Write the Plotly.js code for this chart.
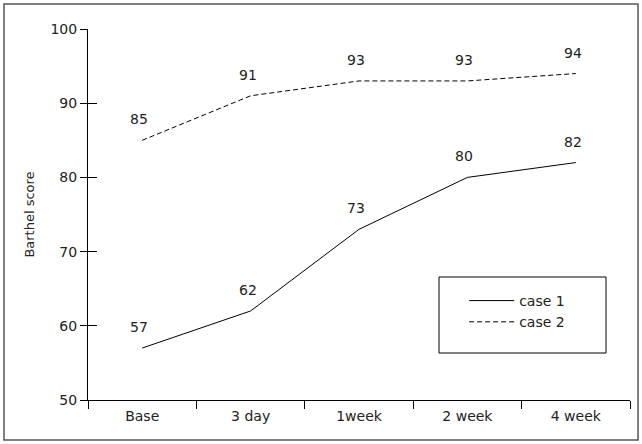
<!DOCTYPE html>
<html>
<head>
<meta charset="utf-8">
<script src="https://cdn.plot.ly/plotly-3.0.1.min.js"></script>
<style>html,body{margin:0;padding:0;background:#fff;}#chart{width:642px;height:444px;}</style>
</head>
<body>
<div id="chart"></div>
<script>
var categories = ["Base", "3 day", "1week", "2 week", "4 week"];
var case1 = [57, 62, 73, 80, 82];
var case2 = [85, 91, 93, 93, 94];
var seriesNames = ["case 1", "case 2"];
var yTicks = [50, 60, 70, 80, 90, 100];

var FONT = "DejaVu Sans, sans-serif";
var FS = 14;

var traces = [
  {x: categories, y: case1, name: seriesNames[0], type: "scatter", mode: "lines",
   line: {color: "#000", width: 1}},
  {x: categories, y: case2, name: seriesNames[1], type: "scatter", mode: "lines",
   line: {color: "#000", width: 1, dash: "5px,3px"}}
];

var annotations = [];
[case1, case2].forEach(function (arr) {
  arr.forEach(function (v, i) {
    annotations.push({x: categories[i], y: v, xref: "x", yref: "y", text: String(v),
      showarrow: false, yshift: 21, xshift: -3,
      font: {family: FONT, size: FS, color: "#222"}});
  });
});

var layout = {
  width: 642, height: 444,
  margin: {l: 88, r: 12, t: 29, b: 44, pad: 0},
  paper_bgcolor: "#fff", plot_bgcolor: "#fff",
  font: {family: FONT, size: FS, color: "#222"},
  showlegend: true,
  legend: {x: 0.694, y: 0.31, xanchor: "left", yanchor: "top", bgcolor: "rgba(0,0,0,0)",
    borderwidth: 0, itemwidth: 45, font: {family: FONT, size: FS, color: "#222"}, tracegroupgap: 0},
  xaxis: {type: "category", range: [-0.5, 4.5], showline: true, linecolor: "#000", linewidth: 1,
    ticks: "outside", ticklen: 8, tickcolor: "#000", tickwidth: 1, tickson: "boundaries",
    showgrid: false, zeroline: false, fixedrange: true, ticklabelstandoff: 3,
    tickfont: {family: FONT, size: FS, color: "#222"}},
  yaxis: {range: [50, 100], tickvals: yTicks, showline: true, linecolor: "#000", linewidth: 1,
    ticks: "outside", ticklen: 7, tickcolor: "#000", tickwidth: 1, showgrid: false, zeroline: false,
    tickfont: {family: FONT, size: FS, color: "#222"},
    title: {text: "Barthel score", standoff: 12, font: {family: FONT, size: 13, color: "#222"}}},
  yaxis2: {range: [50, 100], tickvals: yTicks, overlaying: "y", side: "left", anchor: "x",
    showline: false, ticks: "inside", ticklen: 9, tickcolor: "#000", tickwidth: 1,
    showticklabels: false, showgrid: false, zeroline: false},
  annotations: annotations,
  shapes: [
    {type: "rect", xref: "paper", yref: "paper", x0: -0.155, x1: 1.0148, y0: -0.1078, y1: 1.0674,
     line: {color: "#555", width: 1.5}, fillcolor: "rgba(0,0,0,0)"},
    {type: "rect", xref: "paper", yref: "paper", x0: (439 - 88) / 542, x1: (606 - 88) / 542,
     y0: (400 - 353) / 371, y1: (400 - 277) / 371, line: {color: "#000", width: 1},
     fillcolor: "rgba(0,0,0,0)"}
  ]
};

traces.push({x: categories, y: case1, yaxis: "y2", type: "scatter", mode: "lines",
  line: {width: 0, color: "rgba(0,0,0,0)"}, showlegend: false, hoverinfo: "skip"});

Plotly.newPlot("chart", traces, layout, {displayModeBar: false, staticPlot: true});
</script>
</body>
</html>
